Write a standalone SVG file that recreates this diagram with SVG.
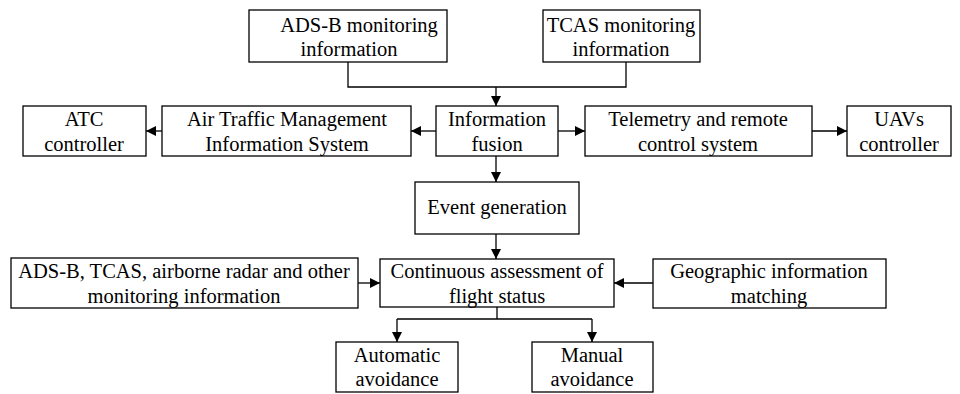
<svg xmlns="http://www.w3.org/2000/svg" width="960" height="394" viewBox="0 0 960 394">
  <style>
    .box { fill: #fff; stroke: #000; stroke-width: 1.3; }
    .lbl { font-size: 20.5px; fill: #000; text-anchor: middle; }
    .wire { fill: none; stroke: #000; stroke-width: 1.3; }
  </style>
  <defs>
    <marker id="arrow" viewBox="0 0 10 10" refX="10" refY="5" markerWidth="10" markerHeight="10" markerUnits="userSpaceOnUse" orient="auto">
      <path d="M0,0 L10,5 L0,10 Z" fill="#000"/>
    </marker>
  </defs>

  <!-- connectors -->
  <g id="connectors">
    <polyline class="wire" points="348,62 348,87 626,87 626,62"/>
    <line class="wire" x1="496" y1="87" x2="496" y2="106" marker-end="url(#arrow)"/>
    <line class="wire" x1="436" y1="131" x2="411" y2="131" marker-end="url(#arrow)"/>
    <line class="wire" x1="162" y1="131" x2="146" y2="131" marker-end="url(#arrow)"/>
    <line class="wire" x1="558" y1="131" x2="585" y2="131" marker-end="url(#arrow)"/>
    <line class="wire" x1="812" y1="131" x2="847" y2="131" marker-end="url(#arrow)"/>
    <line class="wire" x1="496" y1="156" x2="496" y2="182" marker-end="url(#arrow)"/>
    <line class="wire" x1="496" y1="234" x2="496" y2="259" marker-end="url(#arrow)"/>
    <line class="wire" x1="358" y1="283" x2="380" y2="283" marker-end="url(#arrow)"/>
    <line class="wire" x1="653" y1="283" x2="614" y2="283" marker-end="url(#arrow)"/>
    <line class="wire" x1="497" y1="307" x2="497" y2="319"/>
    <line class="wire" x1="397" y1="319" x2="592" y2="319"/>
    <line class="wire" x1="397" y1="319" x2="397" y2="342" marker-end="url(#arrow)"/>
    <line class="wire" x1="592" y1="319" x2="592" y2="342" marker-end="url(#arrow)"/>
  </g>

  <g font-family="'Liberation Serif', 'DejaVu Serif', serif">
  <g id="adsb-info">
    <rect class="box" x="249" y="10" width="198" height="52"/>
    <text class="lbl" x="359" y="32">ADS-B monitoring</text>
    <text class="lbl" x="349" y="56">information</text>
  </g>
  <g id="tcas-info">
    <rect class="box" x="543" y="10" width="157" height="52"/>
    <text class="lbl" x="621" y="32">TCAS monitoring</text>
    <text class="lbl" x="621" y="56">information</text>
  </g>

  <g id="atc-controller">
    <rect class="box" x="23" y="106" width="123" height="50"/>
    <text class="lbl" x="84" y="126">ATC</text>
    <text class="lbl" x="84" y="151">controller</text>
  </g>
  <g id="atmis">
    <rect class="box" x="162" y="106" width="249" height="50"/>
    <text class="lbl" x="287" y="126">Air Traffic Management</text>
    <text class="lbl" x="287" y="151">Information System</text>
  </g>
  <g id="info-fusion">
    <rect class="box" x="436" y="106" width="122" height="50"/>
    <text class="lbl" x="497" y="126">Information</text>
    <text class="lbl" x="497" y="151">fusion</text>
  </g>
  <g id="telemetry">
    <rect class="box" x="585" y="106" width="227" height="50"/>
    <text class="lbl" x="698" y="126">Telemetry and remote</text>
    <text class="lbl" x="698" y="151">control system</text>
  </g>
  <g id="uav-controller">
    <rect class="box" x="847" y="106" width="104" height="50"/>
    <text class="lbl" x="899" y="126">UAVs</text>
    <text class="lbl" x="899" y="151">controller</text>
  </g>

  <g id="event-generation">
    <rect class="box" x="415" y="182" width="164" height="52"/>
    <text class="lbl" x="497" y="214">Event generation</text>
  </g>

  <g id="monitoring-sources">
    <rect class="box" x="11" y="258" width="347" height="50"/>
    <text class="lbl" x="184" y="278">ADS-B, TCAS, airborne radar and other</text>
    <text class="lbl" x="184" y="303">monitoring information</text>
  </g>
  <g id="flight-assessment">
    <rect class="box" x="380" y="259" width="234" height="48"/>
    <text class="lbl" x="497" y="278">Continuous assessment of</text>
    <text class="lbl" x="497" y="303">flight status</text>
  </g>
  <g id="geo-matching">
    <rect class="box" x="653" y="259" width="233" height="49"/>
    <text class="lbl" x="769" y="278">Geographic information</text>
    <text class="lbl" x="769" y="303">matching</text>
  </g>

  <g id="auto-avoidance">
    <rect class="box" x="336" y="342" width="122" height="50"/>
    <text class="lbl" x="397" y="362">Automatic</text>
    <text class="lbl" x="397" y="386">avoidance</text>
  </g>
  <g id="manual-avoidance">
    <rect class="box" x="532" y="342" width="121" height="50"/>
    <text class="lbl" x="592" y="362">Manual</text>
    <text class="lbl" x="592" y="386">avoidance</text>
  </g>
  </g>
</svg>
